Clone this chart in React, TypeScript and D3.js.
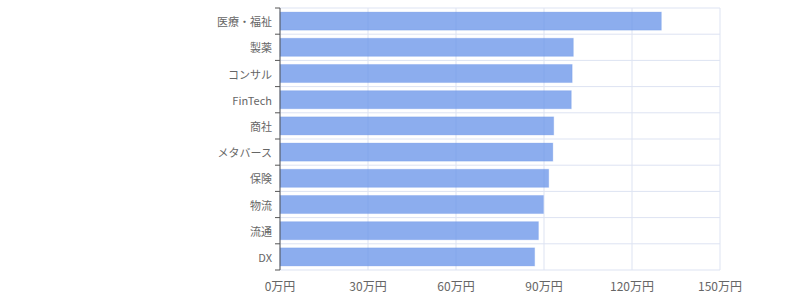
import React from "react";
import * as d3 from "d3";

const categories = ["医療・福祉", "製薬", "コンサル", "FinTech", "商社", "メタバース", "保険", "物流", "流通", "DX"];
const values = [130, 100, 99.6, 99.3, 93.3, 93.0, 91.6, 89.8, 88.1, 86.8];
const xTicks = [0, 30, 60, 90, 120, 150];

const W = 800, H = 300;
const left = 280, right = 720, top = 8, bottom = 270;

export default function App() {
  const x = d3.scaleLinear().domain([0, 150]).range([left, right]);
  const y = d3.scaleBand<string>().domain(categories).range([top, bottom]).paddingInner(0).paddingOuter(0);
  const bw = y.bandwidth();
  const barH = bw * 0.69;
  const font = "'Noto Sans CJK JP', 'Noto Sans', sans-serif";
  const boundaries = categories.map((c) => y(c)!).concat([bottom]);
  return (
    <svg width={W} height={H} style={{ position: "absolute", left: 0, top: 0 }}>
      {xTicks.map((t) => (
        <line key={"vg" + t} x1={x(t)} x2={x(t)} y1={top} y2={bottom} stroke="#dde3f2" strokeWidth={1} />
      ))}
      {boundaries.map((b, i) => (
        <line key={"hg" + i} x1={left} x2={right} y1={b} y2={b} stroke="#dde3f2" strokeWidth={1} />
      ))}
      {categories.map((c, i) => (
        <rect
          key={c}
          x={x(0)}
          y={y(c)! + (bw - barH) / 2}
          width={x(values[i]) - x(0)}
          height={barH}
          fill="rgba(100,145,232,0.74)"
          stroke="rgba(100,145,232,0.25)"
          strokeWidth={1}
        />
      ))}
      <line x1={left} x2={left} y1={top} y2={bottom} stroke="#555" strokeWidth={1} />
      {boundaries.map((b, i) => (
        <line key={"tk" + i} x1={left - 5} x2={left} y1={b} y2={b} stroke="#555" strokeWidth={1} />
      ))}
      {categories.map((c) => (
        <text key={"yl" + c} x={left - 8} y={y(c)! + bw / 2} textAnchor="end" dominantBaseline="central"
          fontFamily={font} fontSize={11} fill="#666">{c}</text>
      ))}
      {xTicks.map((t) => (
        <text key={"xl" + t} x={x(t)} y={bottom + 15} textAnchor="middle" dominantBaseline="central"
          fontFamily={font} fontSize={12} fill="#666">{t + "万円"}</text>
      ))}
    </svg>
  );
}
